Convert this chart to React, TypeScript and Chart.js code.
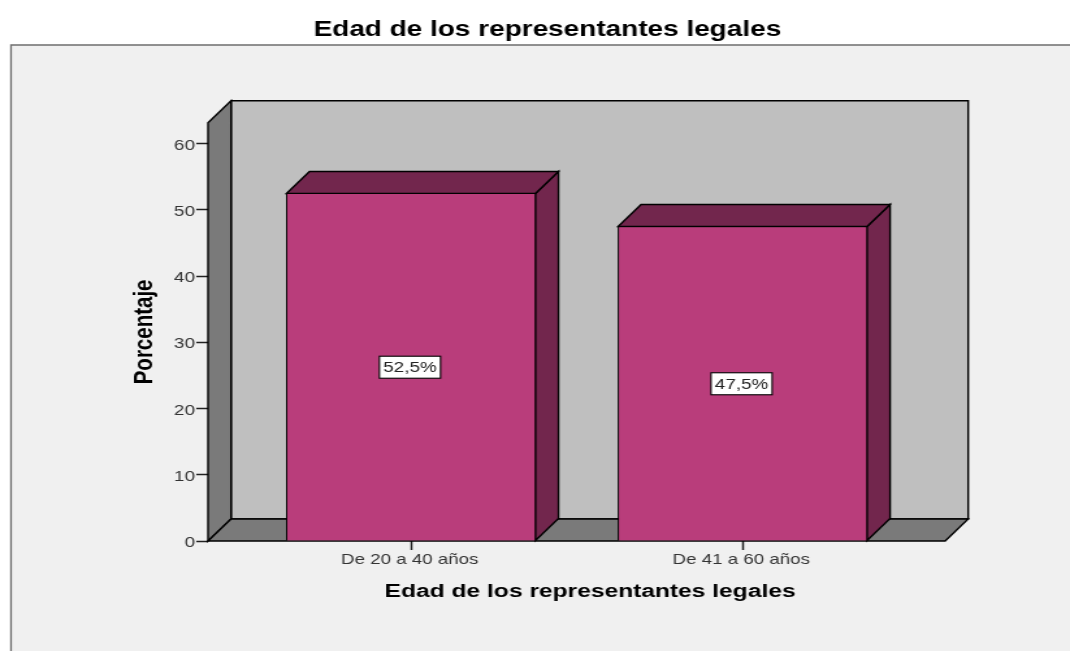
import React, { useEffect, useRef } from "react";
import { Chart, registerables } from "chart.js";

Chart.register(...registerables);

const categories = ["De 20 a 40 años", "De 41 a 60 años"];
const percentages = [52.5, 47.5];
const valueLabels = ["52,5%", "47,5%"];
const chartTitle = "Edad de los representantes legales";
const yTitle = "Porcentaje";
const xTitle = "Edad de los representantes legales";

// The reference is a picture stretched sideways: draw narrow, then stretch the canvas.
const PAGE_W = 1070;
const PAGE_H = 651;
const CANVAS_W = 823;
const SX = PAGE_W / CANVAS_W;
const FONT = "'Liberation Sans', Arial, sans-serif";
const DX = 23 / SX;
const DY = 22;

function poly(ctx: CanvasRenderingContext2D, pts: number[][], fill: string, lw = 1.4) {
  ctx.beginPath();
  pts.forEach(([x, y], i) => (i ? ctx.lineTo(x, y) : ctx.moveTo(x, y)));
  ctx.closePath();
  ctx.fillStyle = fill;
  ctx.fill();
  ctx.lineWidth = lw;
  ctx.strokeStyle = "#000";
  ctx.lineJoin = "miter";
  ctx.stroke();
}

const scene3d = {
  id: "scene3d",
  beforeDraw(chart: any) {
    const { ctx, width, height } = chart;
    ctx.save();
    ctx.fillStyle = "#ffffff";
    ctx.fillRect(0, 0, width, height);
    const fx = 11 / SX;
    const fy = 45;
    ctx.fillStyle = "#f0f0f0";
    ctx.fillRect(fx, fy, width - fx, height - fy);
    ctx.strokeStyle = "#6e6e6e";
    ctx.lineWidth = 1.3;
    ctx.beginPath();
    ctx.moveTo(fx, height);
    ctx.lineTo(fx, fy);
    ctx.lineTo(width, fy);
    ctx.stroke();
    ctx.restore();
  },
  afterLayout(chart: any) {
    // the x axis title sits right of the axis centre in the reference
    chart.scales.x.right += 27 / SX;
  },
  beforeDatasetsDraw(chart: any) {
    const { ctx, chartArea: a } = chart;
    ctx.save();
    poly(ctx, [[a.left + DX, a.top - DY], [a.right + DX, a.top - DY], [a.right + DX, a.bottom - DY], [a.left + DX, a.bottom - DY]], "#bfbfbf");
    poly(ctx, [[a.left, a.top], [a.left + DX, a.top - DY], [a.left + DX, a.bottom - DY], [a.left, a.bottom]], "#7a7a7a");
    poly(ctx, [[a.left, a.bottom], [a.left + DX, a.bottom - DY], [a.right + DX, a.bottom - DY], [a.right, a.bottom]], "#7a7a7a");
    const meta = chart.getDatasetMeta(0);
    meta.data.forEach((b: any) => {
      const l = b.x - b.width / 2;
      const r = b.x + b.width / 2;
      poly(ctx, [[r, b.y], [r + DX, b.y - DY], [r + DX, b.base - DY], [r, b.base]], "#72264d");
      poly(ctx, [[l, b.y], [l + DX, b.y - DY], [r + DX, b.y - DY], [r, b.y]], "#72264d");
    });
    ctx.restore();
  },
  afterDatasetsDraw(chart: any) {
    const { ctx, scales } = chart;
    const meta = chart.getDatasetMeta(0);
    ctx.save();
    ctx.font = `14.5px ${FONT}`;
    ctx.textAlign = "center";
    ctx.textBaseline = "middle";
    meta.data.forEach((b: any, i: number) => {
      const cx = b.x - 1 / SX;
      const cy = scales.y.getPixelForValue(percentages[i] / 2);
      const w = 47;
      const h = 22;
      ctx.fillStyle = "#fff";
      ctx.fillRect(cx - w / 2, cy - h / 2, w, h);
      ctx.strokeStyle = "#000";
      ctx.lineWidth = 1.1;
      ctx.strokeRect(cx - w / 2, cy - h / 2, w, h);
      ctx.fillStyle = "#222";
      ctx.fillText(valueLabels[i], cx, cy + 1);
    });
    ctx.restore();
  },
};

export default function App() {
  const ref = useRef<HTMLCanvasElement>(null);
  useEffect(() => {
    const chart = new Chart(ref.current as HTMLCanvasElement, {
      type: "bar",
      data: {
        datasets: [
          {
            data: percentages.map((y, x) => ({ x, y })),
            backgroundColor: "#b93d7b",
            borderColor: "#000",
            borderWidth: 1,
            barThickness: 249 / SX,
          },
        ],
      },
      options: {
        responsive: false,
        animation: false,
        devicePixelRatio: 1,
        layout: { padding: { left: 115, right: 96, top: 0, bottom: 40 } },
        plugins: {
          legend: { display: false },
          tooltip: { enabled: false },
          title: {
            display: true,
            text: chartTitle,
            color: "#000",
            font: { family: FONT, size: 21.5, weight: "bold" },
            padding: { top: 17, bottom: 80 },
          },
        },
        scales: {
          x: {
            type: "linear",
            offset: false,
            min: -0.612,
            max: 1.611,
            afterBuildTicks: (s: any) => {
              s.ticks = categories.map((_, value) => ({ value }));
            },
            afterFit: (s: any) => {
              s.height = 70;
            },
            grid: { offset: false, drawOnChartArea: false, drawTicks: true, tickLength: 9, tickColor: "#222", tickWidth: 1.5 },
            border: { display: false },
            ticks: {
              callback: (v: any) => categories[v],
              color: "#333",
              padding: 1,
              labelOffset: -1,
              maxRotation: 0,
              font: { family: FONT, size: 14.4 },
            },
            title: {
              display: true,
              text: xTitle,
              color: "#000",
              font: { family: FONT, size: 18.9, weight: "bold" },
              padding: { top: 0, bottom: 7.6 },
            },
          },
          y: {
            min: 0,
            max: 63.17,
            afterFit: (s: any) => {
              s.width = 45;
            },
            grid: { drawOnChartArea: false, drawTicks: true, tickLength: 9, tickColor: "#222", tickWidth: 1.5 },
            border: { display: false },
            ticks: {
              stepSize: 10,
              includeBounds: false,
              color: "#333",
              padding: 1,
              labelOffset: 2,
              font: { family: FONT, size: 14.5 },
            },
            title: {
              display: true,
              text: yTitle,
              color: "#000",
              font: { family: FONT, size: 20.5, weight: "bold" },
              padding: { top: -15.5, bottom: 0 },
            },
          },
        },
      } as any,
      plugins: [scene3d],
    });
    return () => chart.destroy();
  }, []);
  return (
    <canvas
      ref={ref}
      width={CANVAS_W}
      height={PAGE_H}
      style={{ position: "absolute", left: 0, top: 0, width: PAGE_W, height: PAGE_H }}
    />
  );
}
